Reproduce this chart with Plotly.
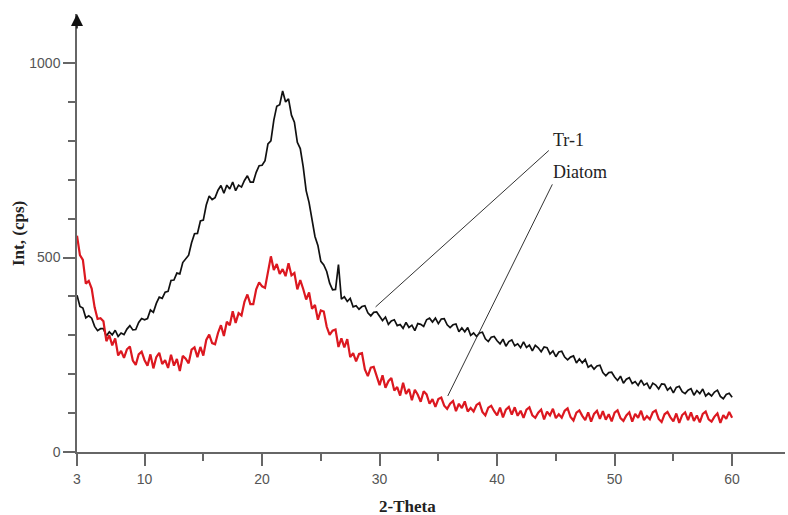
import plotly.graph_objects as go

# ---- data (2-Theta scan, 0.25 deg step starting at the axis origin) ----
tr1 = [
    403, 374, 370,
    345, 350, 344, 323,
    312, 317, 317, 298,
    309, 301, 313, 297,
    306, 302, 316, 325,
    314, 315, 333, 343,
    340, 343, 365, 359,
    382, 398, 395, 411,
    413, 441, 442, 460,
    458, 487, 497, 506,
    538, 561, 562, 594,
    596, 635, 658, 649,
    654, 673, 685, 665,
    686, 676, 694, 672,
    686, 681, 698, 710,
    694, 694, 719, 736,
    737, 749, 792, 800,
    853, 889, 893, 928,
    900, 908, 866, 848,
    796, 780, 733, 672,
    641, 600, 554, 531,
    490, 481, 464, 434,
    417, 418, 482, 393,
    399, 387, 395, 373,
    376, 367, 374, 376,
    358, 350, 359, 360,
    348, 338, 347, 328,
    337, 340, 325, 328,
    318, 333, 320, 326,
    312, 330, 328, 323,
    340, 344, 334, 344,
    330, 342, 343, 327,
    320, 327, 329, 309,
    319, 309, 320, 300,
    306, 297, 306, 308,
    291, 284, 295, 297,
    286, 278, 290, 272,
    284, 288, 273, 278,
    268, 283, 269, 275,
    260, 274, 268, 258,
    270, 268, 252, 260,
    245, 257, 259, 244,
    237, 244, 247, 229,
    239, 229, 238, 218,
    223, 213, 221, 223,
    204, 196, 204, 205,
    193, 184, 195, 177,
    187, 191, 176, 181,
    171, 185, 172, 177,
    162, 177, 172, 162,
    175, 174, 159, 166,
    152, 166, 169, 155,
    150, 159, 163, 146,
    158, 150, 162, 144,
    151, 144, 154, 159,
    143, 137, 148, 151,
    141,
]

diatom = [
    556, 506, 494,
    433, 440, 420, 372,
    342, 344, 336, 285,
    300, 274, 292, 248,
    260, 242, 264, 271,
    235, 224, 251, 258,
    236, 222, 251, 215,
    244, 255, 226, 236,
    216, 250, 222, 239,
    208, 247, 240, 228,
    263, 269, 244, 270,
    248, 288, 302, 280,
    277, 306, 326, 298,
    335, 326, 362, 332,
    357, 351, 386, 405,
    380, 380, 418, 436,
    426, 422, 462, 503,
    468, 483, 458, 470,
    452, 485, 454, 460,
    418, 442, 419, 392,
    410, 368, 378, 340,
    364, 361, 322, 301,
    312, 315, 270, 292,
    269, 290, 244, 254,
    233, 252, 254, 212,
    195, 217, 219, 192,
    172, 197, 165, 182,
    190, 158, 167, 145,
    178, 149, 162, 133,
    160, 147, 129, 156,
    148, 124, 136, 116,
    136, 140, 119, 111,
    124, 131, 105, 124,
    113, 130, 104, 113,
    104, 121, 126, 103,
    94, 114, 119, 105,
    94, 114, 89, 109,
    116, 96, 115, 93,
    106, 88, 109, 115,
    94, 88, 101, 109,
    84, 104, 94, 111,
    87, 97, 88, 106,
    112, 90, 81, 101,
    107, 93, 82, 102,
    78, 98, 106, 85,
    105, 83, 97, 79,
    101, 107, 87, 80,
    94, 102, 78, 98,
    88, 106, 82, 92,
    84, 102, 107, 85,
    77, 97, 103, 89,
    79, 99, 75, 95,
    102, 82, 102, 80,
    94, 76, 98, 104,
    84, 78, 91, 99,
    75, 95, 85, 103,
    88,
]

scan_start = 4.25
scan_step = 0.25
two_theta = [scan_start + scan_step * i for i in range(len(tr1))]
assert len(diatom) == len(tr1)

x_tick_vals = [scan_start, 10, 20, 30, 40, 50, 60]
x_tick_text = ["3", "10", "20", "30", "40", "50", "60"]
x_minor_vals = [15, 25, 35, 45, 55]
y_tick_vals = [0, 500, 1000]
y_minor_vals = [100, 200, 300, 400, 600, 700, 800, 900]

series_names = ["Tr-1", "Diatom"]

# ---- figure ----
fig = go.Figure()
fig.add_trace(go.Scatter(x=two_theta, y=tr1, mode="lines", name=series_names[0],
                         line=dict(color="#111111", width=1.7)))
fig.add_trace(go.Scatter(x=two_theta, y=diatom, mode="lines", name=series_names[1],
                         line=dict(color="#dc1820", width=2.2)))

tick_font = dict(family="Liberation Sans Narrow, Liberation Sans, Arial", size=14, color="#555555")
title_font = dict(family="Liberation Serif, Times New Roman, serif", size=17, color="#222222")
label_font = dict(family="Liberation Serif, Times New Roman, serif", size=18, color="#222222")

ML, MR, MT, MB = 77, 3, 14, 63
W, H = 788, 515

fig.update_layout(
    width=W, height=H,
    margin=dict(l=ML, r=MR, t=MT, b=MB, autoexpand=False),
    paper_bgcolor="white", plot_bgcolor="white",
    showlegend=False,
    xaxis=dict(
        range=[scan_start, 64.5], showgrid=False, zeroline=False, automargin=False,
        showline=True, linecolor="#666666", linewidth=1.5,
        tickmode="array", tickvals=x_tick_vals, ticktext=x_tick_text,
        ticks="outside", ticklen=12, tickwidth=1.5, tickcolor="#666666",
        tickfont=tick_font, ticklabelstandoff=1,
        minor=dict(tickmode="array", tickvals=x_minor_vals, ticks="outside",
                   ticklen=7, tickwidth=1.5, tickcolor="#666666", showgrid=False),
    ),
    yaxis=dict(
        range=[0, 1126], showgrid=False, zeroline=False, automargin=False,
        showline=True, linecolor="#666666", linewidth=1.5,
        tickmode="array", tickvals=y_tick_vals,
        ticks="outside", ticklen=12, tickwidth=1.5, tickcolor="#666666",
        tickfont=tick_font, ticklabelstandoff=0,
        minor=dict(tickmode="array", tickvals=y_minor_vals, ticks="outside",
                   ticklen=7, tickwidth=1.5, tickcolor="#666666", showgrid=False),
    ),
)

plot_w = W - ML - MR
plot_h = H - MT - MB


def px_to_paper(px, py):
    return (px - ML) / plot_w, (H - MB - py) / plot_h


# arrow head on top of y axis
fig.add_annotation(x=0, y=1, xref="paper", yref="paper", text="", showarrow=True,
                   ax=0, ay=16, arrowhead=2, arrowsize=1.6, arrowwidth=1.5, arrowcolor="#111111")

# axis titles
tx, ty = px_to_paper(407, 507)
fig.add_annotation(x=tx, y=ty, xref="paper", yref="paper", text="<b>2-Theta</b>",
                   showarrow=False, font=title_font, xanchor="center", yanchor="middle")
tx, ty = px_to_paper(18, 234)
fig.add_annotation(x=tx, y=ty, xref="paper", yref="paper", text="<b>Int, (cps)</b>",
                   showarrow=False, font=title_font, textangle=-90,
                   xanchor="center", yanchor="middle")

# series labels with leader lines
label_x = 44.55
fig.add_annotation(x=label_x, y=803, xref="x", yref="y", text=series_names[0], showarrow=False,
                   font=label_font, xanchor="left", yanchor="middle")
fig.add_annotation(x=label_x, y=719, xref="x", yref="y", text=series_names[1], showarrow=False,
                   font=label_font, xanchor="left", yanchor="middle")
fig.add_shape(type="line", xref="x", yref="y", x0=44.4, y0=775, x1=29.66, y1=373,
              line=dict(color="#333333", width=1))
fig.add_shape(type="line", xref="x", yref="y", x0=44.7, y0=688, x1=35.8, y1=144,
              line=dict(color="#333333", width=1))

fig.write_html("out.html", config={"displayModeBar": False},
               post_script="document.body.style.margin='0';document.body.style.padding='0';")
